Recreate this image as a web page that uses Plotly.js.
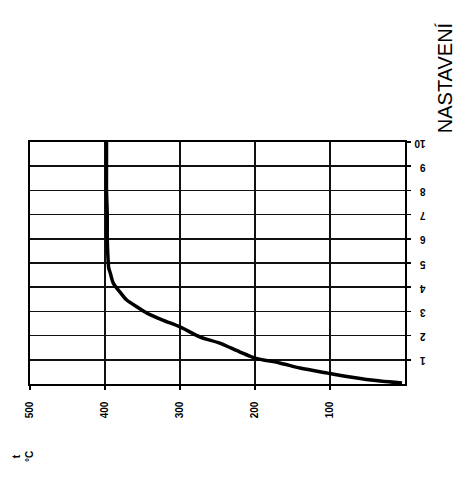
<!DOCTYPE html>
<html>
<head>
<meta charset="utf-8">
<script src="https://cdn.plot.ly/plotly-3.0.1.min.js"></script>
<style>html,body{margin:0;padding:0;background:#fff;}#chart{width:457px;height:478px;}</style>
</head>
<body>
<div id="chart"></div>
<script>
// Setting (NASTAVENÍ) on the vertical axis, temperature on the horizontal axis
const settings = [0.04, 0.12, 0.29, 0.45, 0.66, 0.87, 1.07, 1.32, 1.69, 1.94, 2.36, 2.64, 2.93, 3.18, 3.47, 3.80, 4.17, 4.59, 4.79, 5.2, 6, 7, 8, 9, 10];
const temps    = [4, 33, 73, 103, 140, 167, 200, 220, 247, 273, 300, 323, 344, 357, 371, 380, 389, 393, 395, 396, 397, 397, 398, 398, 398];
const tempTicks = [500, 400, 300, 200, 100];
const settingTicks = [1, 2, 3, 4, 5, 6, 7, 8, 9, 10];
const titleText = "NASTAVENÍ";
const unitText = "t<br>°C";

const trace = {
  x: temps, y: settings, type: 'scatter', mode: 'lines',
  line: {color: '#000', width: 3.5, shape: 'spline', smoothing: 0.8},
  hoverinfo: 'skip', showlegend: false
};

const layout = {
  width: 457, height: 478,
  margin: {l: 30, r: 52, t: 142, b: 94},
  paper_bgcolor: '#fff', plot_bgcolor: '#fff',
  font: {family: 'Liberation Sans, Arial, sans-serif', color: '#000', size: 9},
  xaxis: {
    range: [500, 0], tickvals: tempTicks, ticktext: tempTicks.map(String),
    tickangle: -90, ticks: 'outside', ticklen: 4, tickwidth: 1.5, tickcolor: '#000',
    ticklabelstandoff: 8,
    showgrid: true, gridcolor: '#111', gridwidth: 1.6,
    showline: true, linecolor: '#000', linewidth: 1.6, mirror: true,
    zeroline: false, tickfont: {size: 10, color: '#000', weight: 'bold'}
  },
  yaxis: {
    range: [0, 10], side: 'right', tickvals: settingTicks, ticktext: settingTicks.map(String),
    tickangle: 180, ticks: 'outside', ticklen: 4, tickwidth: 1.5, tickcolor: '#000',
    ticklabelstandoff: 13, ticklabelshift: 4,
    showgrid: true, gridcolor: '#111', gridwidth: 1.6,
    showline: true, linecolor: '#000', linewidth: 1.6, mirror: true,
    zeroline: false, tickfont: {size: 10, color: '#000', weight: 'bold'}
  },
  annotations: [
    {text: titleText, xref: 'paper', yref: 'paper', x: 1.107, y: 1.264,
     xanchor: 'center', yanchor: 'middle', textangle: -90, showarrow: false,
     font: {size: 20, color: '#000', family: 'Liberation Sans, Arial, sans-serif'}},
    {text: unitText, xref: 'paper', yref: 'paper', x: -0.02, y: -0.3,
     xanchor: 'center', yanchor: 'middle', textangle: -90, showarrow: false,
     font: {size: 10, color: '#000', weight: 'bold'}}
  ]
};

Plotly.newPlot('chart', [trace], layout, {displayModeBar: false, staticPlot: true});
</script>
</body>
</html>
